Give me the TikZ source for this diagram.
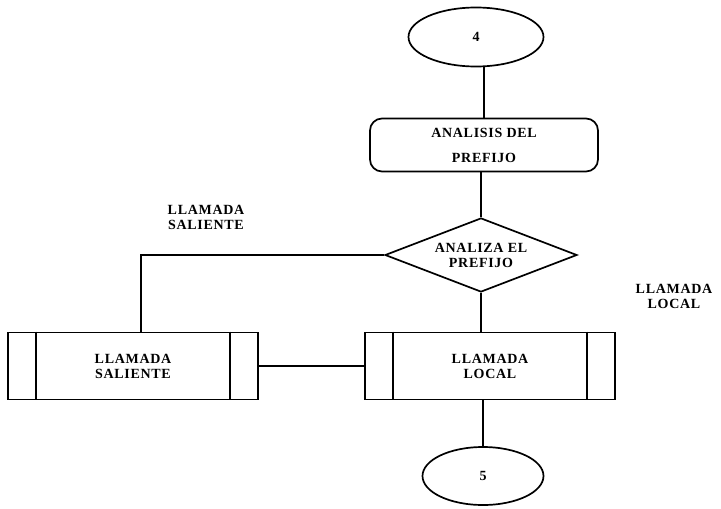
\documentclass[tikz,border=0pt]{standalone}
\usepackage{fontspec}
\setmainfont{Liberation Serif}
\usepackage{tikz}
\usetikzlibrary{shapes.geometric,calc}

\begin{document}
\begin{tikzpicture}[x=1pt, y=-1pt,
    lw/.style={line width=1.7pt},
    txt/.style={font=\fontsize{14}{15}\selectfont\bfseries\addfontfeatures{LetterSpace=5}, align=center},
    terminal/.style={ellipse, draw, lw, inner sep=0pt, txt},
    proceso/.style={rectangle, rounded corners=12pt, draw, lw, inner sep=0pt, txt},
    decision/.style={diamond, aspect=2.6, draw, lw, inner sep=0pt, txt},
    predef/.style={rectangle, draw, lw, inner sep=0pt, txt, minimum width=250pt, minimum height=67pt}]
  \useasboundingbox (0,0) rectangle (721,509);

  % Nodes
  \node[terminal, minimum width=135pt, minimum height=59pt] (inicio) at (476,37) {4};
  \node[proceso, minimum width=228pt, minimum height=53pt] (analisis) at (484,145) {ANALISIS DEL\\[10pt]PREFIJO};
  \node[decision, minimum width=192pt, minimum height=74pt] (analiza) at (481,255) {ANALIZA EL\\PREFIJO};
  \node[predef] (saliente) at (133,366) {LLAMADA\\SALIENTE};
  \node[predef] (local) at (490,366) {LLAMADA\\LOCAL};
  \node[terminal, minimum width=121pt, minimum height=58pt] (fin) at (483,476) {5};

  % Double side bars of the predefined process boxes
  \foreach \b in {saliente, local} {
    \draw[lw] ([xshift=29pt]\b.north west) -- ([xshift=29pt]\b.south west);
    \draw[lw] ([xshift=-29pt]\b.north east) -- ([xshift=-29pt]\b.south east);
  }

  % Connectors
  \draw[lw] (inicio.south -| analisis.north) -- (analisis.north);
  \draw[lw] (analisis.south -| analiza.north) -- (analiza.north);
  \draw[lw] (analiza.west) -| ([xshift=8pt]saliente.north);
  \draw[lw] (analiza.south) -- (analiza.south |- local.north);
  \draw[lw] (saliente.east) -- (local.west);
  \draw[lw] (fin.north |- local.south) -- (fin.north);

  % Branch labels
  \node[txt] (etqsal) at (206,217) {LLAMADA\\SALIENTE};
  \node[txt] (etqloc) at (674,296) {LLAMADA\\LOCAL};
\end{tikzpicture}
\end{document}
